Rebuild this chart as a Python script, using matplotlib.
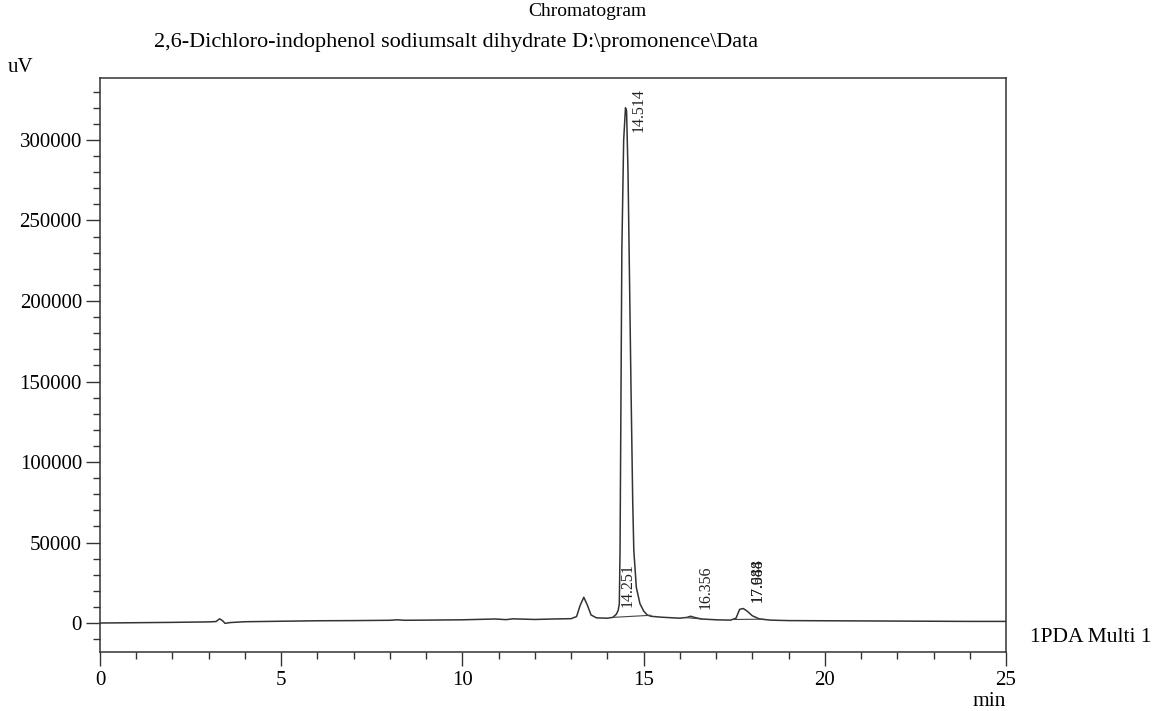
import matplotlib
matplotlib.use('Agg')
import matplotlib.pyplot as plt
from matplotlib.ticker import MultipleLocator

plt.rcParams['font.family'] = ['Liberation Serif', 'DejaVu Serif']

# trace: retention time (min) and signal (uV)
time_min = [0.0, 1.0, 2.0, 3.0, 3.2, 3.3, 3.38, 3.45, 3.6, 4.0, 5.0, 6.0, 7.0,
            8.0, 8.2, 8.4, 9.0, 10.0, 10.9, 11.2, 11.4, 12.0, 12.5, 13.0,
            13.15, 13.25, 13.35, 13.45, 13.55, 13.7, 14.0, 14.15, 14.25, 14.3,
            14.33, 14.35, 14.40, 14.45, 14.50, 14.53, 14.57, 14.60, 14.65,
            14.70, 14.73, 14.8, 14.9, 15.0, 15.1, 15.2, 15.5, 16.0, 16.2, 16.3,
            16.4, 16.6, 17.0, 17.4, 17.55, 17.65, 17.75, 17.85, 18.0, 18.2,
            18.5, 19.0, 20.0, 21.0, 22.0, 23.0, 24.0, 25.0]
signal_uv = [0, 200, 400, 700, 900, 2600, 1500, -200, 300, 800, 1100, 1400, 1500,
             1700, 2000, 1700, 1800, 2000, 2500, 2100, 2600, 2200, 2500, 2700,
             4000, 11000, 16000, 11000, 5000, 3200, 3000, 3500, 5500, 8000,
             12000, 45000, 232000, 300000, 320000, 318000, 280000, 232000, 150000,
             75000, 45000, 22000, 12000, 7500, 5000, 4200, 3600, 3000, 3500, 4200,
             3500, 2500, 2000, 1800, 3000, 8500, 9000, 7500, 4500, 2500,
             1800, 1500, 1400, 1300, 1200, 1100, 1000, 1000]

# integration baselines drawn under the peaks
base_t = [(14.15, 15.2), (16.15, 16.6), (17.5, 18.3)]
base_v = [(3500, 4800), (3400, 2500), (2200, 2400)]

# peak labels (text, time, bottom of rotated text)
peak_labels = ['14.514', '14.251', '16.356', '17.644', '17.988']
label_t = [14.86, 14.57, 16.72, 18.16, 18.16]
label_v = [305000, 10000, 8700, 13000, 13000]

fig = plt.figure(figsize=(11.63, 7.11), dpi=100)
ax = fig.add_axes([100 / 1163, 1 - 652 / 711, 906 / 1163, 574 / 711])

ax.plot(time_min, signal_uv, color='#333333', lw=1.1)
for bt, bv in zip(base_t, base_v):
    ax.plot(bt, bv, color='#444444', lw=0.8)

for txt, t, v in zip(peak_labels, label_t, label_v):
    ax.text(t, v, txt, rotation=90, ha='center', va='bottom', fontsize=11.5,
            color='#222222')

ax.set_xlim(0, 25)
ax.set_ylim(-18000, 338500)
ax.xaxis.set_major_locator(MultipleLocator(5))
ax.xaxis.set_minor_locator(MultipleLocator(1))
ax.yaxis.set_major_locator(MultipleLocator(50000))
ax.yaxis.set_minor_locator(MultipleLocator(10000))
ax.tick_params(axis='both', which='major', direction='out', length=10,
               width=1, labelsize=15, color='#333333', pad=3)
ax.tick_params(axis='both', which='minor', direction='out', length=5,
               width=1, color='#333333')
ax.tick_params(axis='x', which='major', pad=4)
ax.tick_params(top=False, right=False)
for s in ax.spines.values():
    s.set_color('#333333')
    s.set_linewidth(1.1)

fig.text(587 / 1163, 1 - 12 / 711, 'Chromatogram', ha='center', va='center',
         fontsize=14)
fig.text(456 / 1163, 1 - 42 / 711,
         '2,6-Dichloro-indophenol sodiumsalt dihydrate D:\\promonence\\Data',
         ha='center', va='center', fontsize=16)
fig.text(8 / 1163, 1 - 68 / 711, 'uV', ha='left', va='center', fontsize=15)
fig.text(989 / 1163, 1 - 702 / 711, 'min', ha='center', va='center',
         fontsize=15.5)
fig.text(1030 / 1163, 1 - 638 / 711, '1PDA Multi 1', ha='left', va='center',
         fontsize=15.5)

fig.savefig('out.png', dpi=100, facecolor='white')
